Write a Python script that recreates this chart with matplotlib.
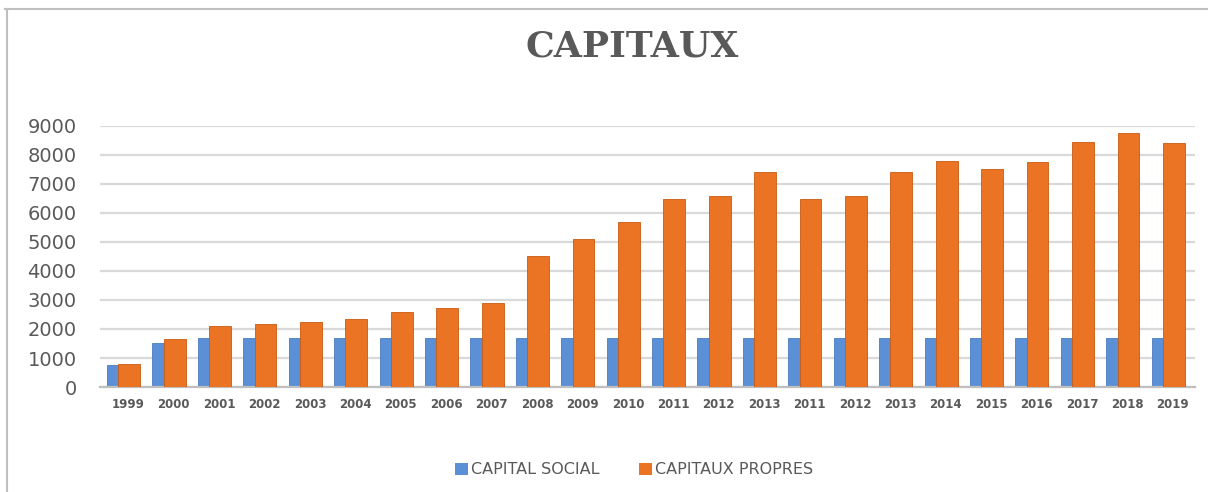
import matplotlib
matplotlib.use("Agg")
import matplotlib.pyplot as plt
import numpy as np
from matplotlib.lines import Line2D
from matplotlib.patches import Patch

years = ["1999", "2000", "2001", "2002", "2003", "2004", "2005", "2006", "2007",
         "2008", "2009", "2010", "2011", "2012", "2013", "2011", "2012", "2013",
         "2014", "2015", "2016", "2017", "2018", "2019"]
capital_social = [750, 1500, 1700, 1700, 1700, 1700, 1700, 1700, 1700, 1700, 1700, 1700,
                  1700, 1700, 1700, 1700, 1700, 1700, 1700, 1700, 1700, 1700, 1700, 1700]
capitaux_propres = [780, 1650, 2100, 2170, 2240, 2350, 2600, 2730, 2900, 4500, 5100, 5700,
                    6480, 6600, 7420, 6480, 6600, 7400, 7780, 7520, 7760, 8450, 8760, 8400]

blue = "#5B8FD6"
orange = "#EA7324"
gray = "#595959"

fig = plt.figure(figsize=(12.08, 4.92), dpi=100)
ax = fig.add_axes([0.083, 0.2134, 0.906, 0.5306])

x = np.arange(len(years))
ax.bar(x - 0.285, capital_social, width=0.37, color=blue, edgecolor="#4A7CC0", linewidth=0.6, zorder=2)
ax.bar(x + 0.02, capitaux_propres, width=0.48, color=orange, edgecolor="#C85A10", linewidth=0.6, zorder=3)

ax.set_xlim(-0.62, 23.48)
ax.set_ylim(0, 9000)
ax.set_yticks(np.arange(0, 9001, 1000))
ax.yaxis.grid(True, color="#D9D9D9", linewidth=1.6, zorder=0)
ax.set_axisbelow(True)
for s in ["top", "right", "left"]:
    ax.spines[s].set_visible(False)
ax.spines["bottom"].set_color("#BFBFBF")
ax.spines["bottom"].set_linewidth(1.6)
ax.set_xticks(x)
ax.set_xticklabels(years, fontsize=8.5, fontweight="bold", color=gray)
ax.tick_params(axis="x", length=0, pad=8)
ax.tick_params(axis="y", length=0, labelsize=14, labelcolor=gray, pad=17)

fig.text(0.523, 0.905, "CAPITAUX", ha="center", va="center", fontsize=26,
         fontweight="bold", family="DejaVu Serif", color=gray)

handles = [Patch(facecolor=blue, label="CAPITAL SOCIAL"),
           Patch(facecolor=orange, label="CAPITAUX PROPRES")]
fig.legend(handles=handles, loc="center", bbox_to_anchor=(0.525, 0.045), ncol=2,
           frameon=False, fontsize=11.5, labelcolor=gray, handlelength=0.8,
           handleheight=0.8, handletextpad=0.2, columnspacing=2.5)

fig.add_artist(Line2D([0.004, 1.0], [0.982, 0.982], color="#BFBFBF", linewidth=1.5, transform=fig.transFigure))
fig.add_artist(Line2D([0.006, 0.006], [0.0, 0.982], color="#BFBFBF", linewidth=1.5, transform=fig.transFigure))

fig.savefig("out.png", dpi=100, facecolor="white")
